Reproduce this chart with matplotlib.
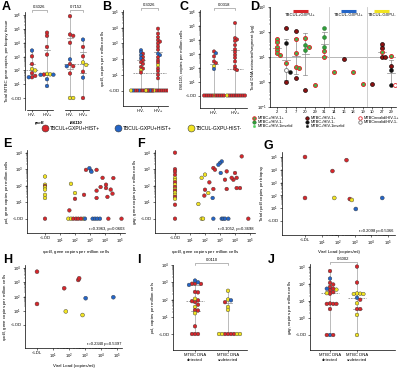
import numpy as np
import matplotlib
matplotlib.use('Agg')
import matplotlib.pyplot as plt
from matplotlib.ticker import FixedLocator, NullFormatter
from matplotlib.lines import Line2D

plt.rcParams['font.family'] = ['Liberation Sans', 'DejaVu Sans']
plt.rcParams['mathtext.fontset'] = 'custom'
plt.rcParams['mathtext.rm'] = 'Liberation Sans'
plt.rcParams['mathtext.it'] = 'Liberation Sans:italic'
plt.rcParams['mathtext.bf'] = 'Liberation Sans:bold'

RED, BLUE, YEL = '#d7262b', '#2465c7', '#f2e422'
COL = {'R': RED, 'B': BLUE, 'Y': YEL}

# ---- data (0 = below limit of detection) ----
# A: total MTBC gene copies per biopsy
a_rpob_neg = [2750, 1050, 290, 126, 100, 63, 40, 32, 32]
a_rpob_neg_c = 'BRRYYRRRB'
a_rpob_pos = [54000, 32000, 5000, 1400, 56, 52, 50, 49, 48, 23, 7.4]
a_rpob_pos_c = 'RRRRYYRBBBB'
a_is_neg = [850000, 40000, 32000, 10000, 630, 290, 200, 200, 60, 0, 0]
a_is_neg_c = 'RRRRBRRBRYY'
a_is_pos = [17000, 5000, 1050, 380, 250, 80, 30, 0]
a_is_pos_c = 'BRRYYRBR'

# B: rpoB copies per million cells
b_neg = [370, 280, 220, 175, 135, 110, 85, 63, 50, 32, 25, 20, 14] + [0] * 12
b_neg_c = 'BBRBRBRRRRRYR' + 'RRBRRYRRBRYR'
b_pos = [8700, 4200, 2500, 1600, 1300, 1000, 630, 400, 220, 180, 130, 83,
         60, 40, 25, 17, 10, 6] + [0] * 14
b_pos_c = 'RRRRRRRRBBRRRYRRRR' + 'RRRRYRRRBRRRYR'

# C: IS6110 copies per million cells
c_neg = [1400, 1050, 620, 270, 210, 120, 78] + [0] * 11
c_neg_c = 'RBRRRYB' + 'YRRRRRRRRRR'
c_pos = [150000, 12600, 10000, 8000, 4000, 2000, 1300, 800, 500, 270, 120, 80, 65] + [0] * 10
c_pos_c = 'RRRRRRRRRRRRR' + 'RRRRRRRRYR'

# D: total DNA extracted per segment
d_ids = ['2', '3', '7', '20', '29', '31', '14', '16', '18', '19', '10', '27', '29']
d_vals = [[54, 40, 26, 19, 14, 12],
          [150, 36, 5.5, 2.9, 2.4, 1.0],
          [108, 54, 15, 4.0, 3.5, 1.5],
          [59, 30, 26, 19, 0.48],
          [0.74],
          [150, 63, 26, 17, 10],
          [2.6], [8.0], [2.6], [0.8], [0.8],
          [32, 23, 15.5, 10, 10],
          [10.7, 4.4, 2.9, 0.74, 0.76]]
d_kind = [['pp'] * 6,
          ['np', 'nn', 'pp', 'in', 'nn', 'np'],
          ['np', 'pp', 'pp', 'pp', 'pp', 'np'],
          ['pp', 'pn', 'pp', 'pn', 'np'],
          ['pp'],
          ['pn', 'pn', 'pn', 'pp', 'pp'],
          ['pp'], ['np'], ['pp'], ['pp'], ['np'],
          ['np', 'np', 'pp', 'np', 'np'],
          ['pp', 'np', 'nn', 'ip', 'nn']]
d_groups = ['TBCUL+GXPU+', 'TBCUL-GXPU+', 'TBCUL-GXPU-']
d_group_span = [(0, 5), (6, 9), (10, 12)]

# E: pol vs rpoB
e_x = [0, 0, 0, 0, 0, 0, 0, 0,
       54, 100, 100, 42, 400, 540, 910, 1170, 1250, 2750, 2750, 2750, 5100, 6900,
       11700, 11700, 24000, 14500, 31600, 36000,
       36, 54, 360, 77, 117, 166, 250, 464, 1500, 2150, 3100, 4600, 16700, 126000]
e_y = [360, 115, 95, 80, 58, 28, 18, 0,
       130, 36, 16, 3.2, 28, 910, 1150, 800, 700, 910, 50, 18, 83, 300,
       115, 72, 58, 21, 33, 290,
       0, 0, 0, 0, 0, 0, 0, 0, 0, 0, 0, 0, 0, 0]
e_c = 'YYRYYYYR' + 'YYRRRRBBBRRRRRRRRRRR' + 'YYYRRRRBBBBBRR'

# F: gag vs rpoB
f_x = [0] * 17 + [28000, 1300, 1000, 780, 360, 460, 100, 60, 1120, 2800, 10000, 12900,
                  7800, 6000, 195, 2150, 360, 2800, 12900, 21500, 100, 165, 325, 36, 90] + \
      [60, 74, 360, 1300, 1650, 2150, 3600, 77000]
f_y = [10000, 1000, 720, 460, 290, 220, 160, 115, 83, 63, 50, 38, 28, 21, 16, 7, 0] + \
      [6000, 2950, 2350, 1860, 1180, 930, 470, 300, 590, 740, 590, 300,
       230, 300, 160, 230, 63, 63, 72, 72, 57, 36, 18, 7.8, 25] + [0] * 8
f_c = 'RRRRYYRYRYRYYRYRR' + 'RBBBRRYYBRRRRRRRRRRRRYBYR' + 'YYBBBBBR'

# G: total rpoB vs viral load
g_x = [0, 316, 45, 0, 58, 500, 660, 1150, 45000]
g_y = [100000, 57000, 8000, 63, 63, 52, 44, 8.7, 63]
g_c = 'RRRRYRYBB'

# H: rpoB vs viral load
h_x = [0, 0, 50, 380, 430, 1100, 59000, 63, 700]
h_y = [5500, 30, 380, 1450, 1900, 76, 89, 9, 5]
h_c = 'RRRRRBBYY'

# I: pol by MTBC DNA status
i_det = [850, 820, 800, 1000, 700, 1250, 275, 260, 72, 80, 90, 50, 110, 37, 24, 23, 16, 2.8, 0, 0, 0]
i_det_c = 'RRRBBBRRRRRRYYRRYR' + 'RRR'
i_und = [320, 100, 90, 70, 37, 25, 0, 0, 0, 0, 0, 0, 0, 0]
i_und_c = 'YYBRYY' + 'RRRRYYYY'

# J: gag by MTBC DNA status
j_det = [550, 200, 90, 112, 65, 45, 51, 41, 32, 26, 28, 51, 6.6, 6.6, 6.6, 7, 3.3, 0, 0, 0]
j_det_c = 'RBRRRYRRRRYB' + 'RRRRR' + 'BRR'
j_und = [1000, 117, 26, 25, 25, 27, 15, 11.5, 7.2, 3.3, 3.3, 1.5, 0]
j_und_c = 'RRYYYYBRYRRYY'

# ---- layout (pixel boxes: left, top, right, bottom) ----
W, H = 400, 369
BOX = {
    'A': (25, 12, 100, 110), 'B': (123, 10, 168, 106), 'C': (200, 10, 247, 108),
    'D': (270, 7, 396, 107),
    'E': (27, 150, 125, 233), 'F': (155, 150, 255, 233), 'G': (282, 152, 395, 235),
    'H': (25, 265, 122, 348), 'I': (173, 265, 247, 350), 'J': (310, 264, 395, 350),
}
LETTERS = {'A': (2, 1), 'B': (102, 1), 'C': (180, 1), 'D': (250, 1),
           'E': (3, 138), 'F': (137, 138), 'G': (264, 140),
           'H': (3, 254), 'I': (137, 254), 'J': (268, 254)}

fig = plt.figure(figsize=(W / 100, H / 100), dpi=100)


def add_ax(key):
    l, t, r, b = BOX[key]
    ax = fig.add_axes([l / W, 1 - b / H, (r - l) / W, (b - t) / H])
    for s in ['top', 'right']:
        ax.spines[s].set_visible(False)
    for s in ['left', 'bottom']:
        ax.spines[s].set_linewidth(0.5)
    ax.tick_params(labelsize=3, length=1.5, width=0.4, pad=1)
    ax.tick_params(which='minor', length=0.8, width=0.3)
    ax.patch.set_alpha(0)
    return ax


def vlims(key, exp0, px0, ppd):
    l, t, r, b = BOX[key]
    return 10 ** (exp0 - (b - px0) / ppd), 10 ** (exp0 + (px0 - t) / ppd)


def hlims(key, exp0, px0, ppd):
    l, t, r, b = BOX[key]
    return 10 ** (exp0 - (px0 - l) / ppd), 10 ** (exp0 + (r - px0) / ppd)


def pow_label(k):
    return r'$10^{%d}$' % k


def log_axis(ax, which, lo, hi, lod=1.0, lod_label='<LOD'):
    ticks = [10.0 ** k for k in range(lo, hi + 1)]
    labels = [pow_label(k) for k in range(lo, hi + 1)]
    if lod_label:
        ticks = [lod] + ticks
        labels = [lod_label] + labels
    minor = [m * 10.0 ** k for k in range(lo, hi) for m in range(2, 10)]
    axis = ax.yaxis if which == 'y' else ax.xaxis
    axis.set_major_locator(FixedLocator(ticks))
    axis.set_ticklabels(labels)
    axis.set_minor_locator(FixedLocator(minor))
    axis.set_minor_formatter(NullFormatter())


def swarm(ypx, d):
    order = np.argsort(-ypx)
    placed, off = [], np.zeros(len(ypx))
    for i in order:
        for k in range(80):
            cand = ((k + 1) // 2) * d * (1 if k % 2 else -1)
            if all((cand - ox) ** 2 + (ypx[i] - oy) ** 2 >= (d * 0.95) ** 2 for ox, oy in placed):
                break
        off[i] = cand
        placed.append((cand, ypx[i]))
    return off


def cat_panel(ax, groups, colors, xpos, ppd, lod=1.0, d=3.2, ms=6, mw=7):
    for vals, cols, x0 in zip(groups, colors, xpos):
        v = np.asarray(vals, float)
        v = np.where(v > 0, v, lod)
        off = swarm(np.log10(v) * ppd, d)
        ax.plot([x0, x0], [v.min(), v.max()], color='#a0a0a0', lw=0.5, zorder=1)
        q1, med, q3 = np.percentile(v, [25, 50, 75])
        ax.plot([x0 - mw, x0 + mw], [med, med], color='#909090', lw=0.6, ls=(0, (2, 1)), zorder=2)
        for q in (q1, q3):
            ax.plot([x0 - mw / 2, x0 + mw / 2], [q, q], color='#909090', lw=0.5, zorder=2)
        ax.scatter(x0 + off, v, s=ms, c=[COL[c] for c in cols], edgecolors='#3a3a3a',
                   linewidths=0.3, zorder=3)
    ax.set_yscale('log')


def xy_panel(ax, xs, ys, cs, ms=7):
    x = np.asarray(xs, float)
    y = np.asarray(ys, float)
    x = np.where(x > 0, x, 1.0)
    y = np.where(y > 0, y, 1.0)
    ax.scatter(x, y, s=ms, c=[COL[c] for c in cs], edgecolors='#3a3a3a', linewidths=0.3, zorder=3)
    ax.set_xscale('log')
    ax.set_yscale('log')


def bracket(ax, key, x1, x2, label, ypx):
    l, t, r, b = BOX[key]
    hgt = b - t
    yf = (b - ypx) / hgt
    tk = 1.8 / hgt
    tr = ax.get_xaxis_transform()
    ax.plot([x1, x1, x2, x2], [yf - tk, yf, yf, yf - tk], color='#808080', lw=0.4,
            transform=tr, clip_on=False)
    ax.text((x1 + x2) / 2, yf + 1.0 / hgt, label, ha='center', va='bottom', fontsize=3,
            transform=tr)


# ---- A ----
ax = add_ax('A')
xa = [7, 22, 45, 58]
cat_panel(ax, [a_rpob_neg, a_rpob_pos, a_is_neg, a_is_pos],
          [a_rpob_neg_c, a_rpob_pos_c, a_is_neg_c, a_is_pos_c], xa, 13.8, d=3.2, ms=7, mw=6)
ax.set_ylim(*vlims('A', 0, 98, 13.8))
ax.set_xlim(0, 75)
log_axis(ax, 'y', 1, 6)
ax.set_xticks(xa)
ax.set_xticklabels(['HIV-', 'HIV+', 'HIV-', 'HIV+'])
ax.spines['bottom'].set_visible(False)
for x1, x2 in [(2, 28), (40, 64)]:
    ax.plot([x1, x2], [0, 0], color='black', lw=0.5, transform=ax.get_xaxis_transform(), clip_on=False)
for x0, name in [(14.5, 'rpoB'), (51.5, 'IS6110')]:
    ax.text(x0, -0.115, name, ha='center', va='top', fontsize=3, fontstyle='italic',
            fontweight='bold', transform=ax.get_xaxis_transform())
ax.set_ylabel('Total MTBC gene copies, per biopsy tissue', fontsize=3.2, labelpad=1)
bracket(ax, 'A', xa[0], xa[1], '0.3026', 10)
bracket(ax, 'A', xa[2], xa[3], '0.7152', 10)

# ---- B ----
ax = add_ax('B')
xb = [18, 35]
cat_panel(ax, [b_neg, b_pos], [b_neg_c, b_pos_c], xb, 15.7, d=2.0, ms=6, mw=8)
ax.set_ylim(*vlims('B', 0, 90.5, 15.7))
ax.set_xlim(0, 45)
log_axis(ax, 'y', 1, 5)
ax.set_xticks(xb)
ax.set_xticklabels(['HIV-', 'HIV+'])
ax.set_ylabel(r'$\it{rpoB}$, copies per million cells', fontsize=3.2, labelpad=1)
bracket(ax, 'B', xb[0], xb[1], '0.3026', 8)

# ---- C ----
ax = add_ax('C')
xc = [14, 35]
cat_panel(ax, [c_neg, c_pos], [c_neg_c, c_pos_c], xc, 14, d=2.0, ms=6, mw=8)
ax.set_ylim(*vlims('C', 0, 95.5, 14))
ax.set_xlim(0, 47)
log_axis(ax, 'y', 1, 6)
ax.set_xticks(xc)
ax.set_xticklabels(['HIV-', 'HIV+'])
ax.set_ylabel('IS6110, copies per million cells', fontsize=3.2, labelpad=1)
bracket(ax, 'C', xc[0], xc[1], '0.0318', 8)

# ---- D ----
KIND = {
    'pp': dict(fc='#3fb54a', ec='#e0262b', lw=0.7, s=8, label='MTBC+/HIV-1+'),
    'pn': dict(fc='#2f9e3a', ec='#1d5c22', lw=0.3, s=8, label='MTBC+/HIV-1-'),
    'pi': dict(fc='#4fd05a', ec='#4fd05a', lw=0.3, s=4, label='MTBC+/HIV-1invalid'),
    'np': dict(fc='#8e1010', ec='#1a0a0a', lw=0.5, s=8, label='MTBC-/HIV-1+'),
    'nn': dict(fc='#111111', ec='#111111', lw=0.3, s=8, label='MTBC-/HIV-1-'),
    'ni': dict(fc='#111111', ec='#111111', lw=0.3, s=4, label='MTBC-/HIV-1invalid'),
    'ip': dict(fc='white', ec='#e0262b', lw=0.6, s=8, label='MTBCinvalid/HIV-1+'),
    'in': dict(fc='white', ec='#777777', lw=0.6, s=8, label='MTBCinvalid/HIV-1-'),
}
ax = add_ax('D')
l, t, r, b = BOX['D']
ppd_d = (b - t) / 4
px_per_cat = (r - l) / 13.2
for i, (vals, kinds) in enumerate(zip(d_vals, d_kind)):
    v = np.asarray(vals, float)
    lv = np.log10(v)
    off = swarm(lv * ppd_d, 3.3) / px_per_cat
    if len(v) >= 3:
        m, s = lv.mean(), lv.std(ddof=1)
        ax.plot([i, i], [10 ** (m - s), 10 ** (m + s)], color='#8a8a8a', lw=0.5, zorder=1)
        for yy, hw in [(m - s, 0.22), (m + s, 0.22), (m, 0.4)]:
            ax.plot([i - hw, i + hw], [10 ** yy, 10 ** yy], color='#8a8a8a', lw=0.5, zorder=1)
    for k in set(kinds):
        idx = [j for j, kk in enumerate(kinds) if kk == k]
        st = KIND[k]
        ax.scatter(i + off[idx], v[idx], s=st['s'], c=st['fc'], edgecolors=st['ec'],
                   linewidths=st['lw'], zorder=3)
ax.set_yscale('log')
ax.set_ylim(0.1, 1000)
ax.set_xlim(-0.7, 12.5)
log_axis(ax, 'y', -1, 3, lod_label=None)
ax.set_xticks(range(len(d_ids)))
ax.set_xticklabels(d_ids)
ax.tick_params(axis='x', pad=0.6)
ax.axhline(10, color='#9a9a9a', lw=0.5, zorder=0)
for xs in (5.5, 9.5):
    ax.axvline(xs, color='#c8c8c8', lw=0.6, zorder=0)
for name, (i0, i1), cc in zip(d_groups, d_group_span, [RED, BLUE, YEL]):
    xm = (i0 + i1) / 2
    ax.plot([xm - 0.8, xm + 0.8], [0.962, 0.962], color=cc, lw=2.2,
            transform=ax.get_xaxis_transform(), solid_capstyle='butt')
    ax.text(xm, 0.92, name, ha='center', va='center', fontsize=3, transform=ax.get_xaxis_transform())
ax.set_ylabel('Total DNA extracted/segment (\u03bcg)', fontsize=3.2, labelpad=1)

legend_cols = [['pp', 'pn', 'pi'], ['np', 'nn', 'ni'], ['ip', 'in']]
for xcol, keys in zip([253, 306, 359], legend_cols):
    handles = [Line2D([], [], ls='none', marker='o', markersize=2.5 if KIND[k]['s'] > 5 else 1.7,
                      markerfacecolor=KIND[k]['fc'], markeredgecolor=KIND[k]['ec'],
                      markeredgewidth=KIND[k]['lw'], label=KIND[k]['label'])
               for k in keys]
    fig.legend(handles=handles, loc='upper left', bbox_to_anchor=(xcol / W, 1 - 116 / H),
               frameon=False, fontsize=2.8, handlelength=0.7, handletextpad=0.4,
               labelspacing=0.05, borderpad=0, borderaxespad=0)

# legend for colours (under A-C)
chand = [Line2D([], [], ls='none', marker='o', markersize=5, markerfacecolor=cc,
                markeredgecolor='#3a3a3a', markeredgewidth=0.4, label=lab)
         for cc, lab in [(RED, 'TBCUL+GXPU+HIST+'), (BLUE, 'TBCUL-GXPU+HIST+'),
                         (YEL, 'TBCUL-GXPU-HIST-')]]
fig.legend(handles=chand, loc='center left', bbox_to_anchor=(42 / W, 1 - 128 / H), ncol=3,
           frameon=False, fontsize=3.6, handlelength=1.0, handletextpad=0.5,
           columnspacing=3.2, borderpad=0, borderaxespad=0)

# ---- E ----
ax = add_ax('E')
xy_panel(ax, e_x, e_y, e_c)
ax.set_ylim(*vlims('E', 0, 218.7, 16.5))
ax.set_xlim(*hlims('E', 0, 45, 15))
log_axis(ax, 'y', 1, 4)
log_axis(ax, 'x', 1, 5)
ax.set_ylabel(r'$\it{pol}$, gene copies per million cells', fontsize=3.2, labelpad=1)
ax.set_xlabel(r'$\it{rpoB}$, gene copies per million cells', fontsize=3.2, labelpad=1.5)
ax.text(0.99, 0.02, 'r=0.3963, p=0.0603', ha='right', va='bottom', fontsize=3, transform=ax.transAxes)

# ---- F ----
ax = add_ax('F')
xy_panel(ax, f_x, f_y, f_c)
ax.set_ylim(*vlims('F', 0, 218.7, 16.5))
ax.set_xlim(*hlims('F', 0, 175, 15))
log_axis(ax, 'y', 1, 4)
log_axis(ax, 'x', 1, 5)
ax.set_ylabel(r'$\it{gag}$, gene copies per million cells', fontsize=3.2, labelpad=1)
ax.set_xlabel(r'$\it{rpoB}$, gene copies per million cells', fontsize=3.2, labelpad=1.5)
ax.text(0.99, 0.02, 'r=0.1052, p=0.3698', ha='right', va='bottom', fontsize=3, transform=ax.transAxes)

# ---- G ----
ax = add_ax('G')
xy_panel(ax, g_x, g_y, g_c, ms=8)
ax.set_ylim(*vlims('G', 0, 221, 12.8))
ax.set_xlim(*hlims('G', 0, 305, 16.6))
log_axis(ax, 'y', 1, 5)
log_axis(ax, 'x', 1, 5, lod_label='<LDL')
ax.set_ylabel(r'Total $\it{rpoB}$ copies per biopsy', fontsize=3.2, labelpad=1)
ax.set_xlabel('Viral Load (copies/ml)', fontsize=3.2, labelpad=1.5)
ax.text(0.99, 0.02, 'r=0.2098 p=0.5366', ha='right', va='bottom', fontsize=3, transform=ax.transAxes)

# ---- H ----
ax = add_ax('H')
xy_panel(ax, h_x, h_y, h_c, ms=8)
ax.set_ylim(*vlims('H', 0, 325, 14.25))
ax.set_xlim(*hlims('H', 0, 37, 16))
log_axis(ax, 'y', 1, 4)
log_axis(ax, 'x', 1, 5, lod_label='<LDL')
ax.set_ylabel(r'$\it{rpoB}$, gene copies per million cells', fontsize=3.2, labelpad=1)
ax.set_xlabel('Viral Load (copies/ml)', fontsize=3.2, labelpad=2)
ax.text(0.99, 0.02, 'r=0.2340 p=0.5397', ha='right', va='bottom', fontsize=3, transform=ax.transAxes)

# ---- I ----
ax = add_ax('I')
xi = [22, 55]
cat_panel(ax, [i_det, i_und], [i_det_c, i_und_c], xi, 17.25, d=3.0, ms=7, mw=9)
ax.set_ylim(*vlims('I', 0, 334, 17.25))
ax.set_xlim(0, 74)
log_axis(ax, 'y', 1, 4)
ax.set_xticks(xi)
ax.set_xticklabels(['MTBC DNA\ndetected', 'MTBC DNA\nundetected'], linespacing=1.1)
ax.set_ylabel(r'$\it{pol}$, copies per million cells', fontsize=3.2, labelpad=1)
bracket(ax, 'I', xi[0], xi[1], '0.0110', 263)

# ---- J ----
ax = add_ax('J')
xj = [20, 47]
cat_panel(ax, [j_det, j_und], [j_det_c, j_und_c], xj, 17.1, lod=0.1, d=3.2, ms=7, mw=9)
ax.set_ylim(*vlims('J', -1, 335, 17.1))
ax.set_xlim(0, 85)
log_axis(ax, 'y', 0, 3, lod=0.1)
ax.set_xticks(xj)
ax.set_xticklabels(['MTBC DNA\ndetected', 'MTBC DNA\nundetected'], linespacing=1.1)
ax.set_ylabel(r'$\it{gag}$, copies per million cells', fontsize=3.2, labelpad=1)
bracket(ax, 'J', xj[0], xj[1], '0.6002', 262)

for key, (x, y) in LETTERS.items():
    fig.text(x / W, 1 - y / H, key, fontsize=9, fontweight='bold', va='top', ha='left')

fig.savefig('out.png', dpi=100)
